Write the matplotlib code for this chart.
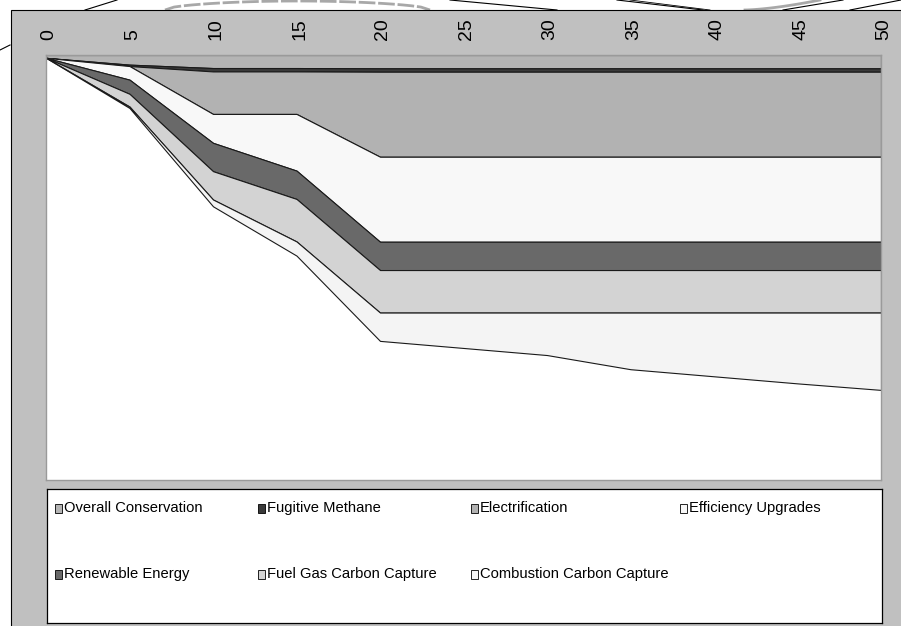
import numpy as np
import matplotlib.pyplot as plt
import matplotlib.transforms as mtransforms
from matplotlib.patches import Rectangle
from matplotlib.lines import Line2D

plt.rcParams['font.family'] = ['Liberation Sans', 'DejaVu Sans']

# years from start
years = [0, 5, 10, 15, 20, 25, 30, 35, 40, 45, 50]

labels = ["Overall Conservation", "Fugitive Methane", "Electrification",
          "Efficiency Upgrades", "Renewable Energy", "Fuel Gas Carbon Capture",
          "Combustion Carbon Capture"]

# reductions (stacked downward)
overall_cons = [0.10, 0.34, 0.46, 0.46, 0.47, 0.47, 0.47, 0.47, 0.47, 0.47, 0.47]
fugitive_ch4 = [0.00, 0.05, 0.12, 0.12, 0.12, 0.12, 0.12, 0.12, 0.12, 0.12, 0.12]
electrif     = [0.00, 0.00, 1.50, 1.50, 3.00, 3.00, 3.00, 3.00, 3.00, 3.00, 3.00]
efficiency   = [0.00, 0.48, 1.02, 2.00, 3.00, 3.00, 3.00, 3.00, 3.00, 3.00, 3.00]
renewable    = [0.00, 0.50, 1.00, 1.00, 1.00, 1.00, 1.00, 1.00, 1.00, 1.00, 1.00]
fuelgas_ccs  = [0.00, 0.45, 1.00, 1.50, 1.50, 1.50, 1.50, 1.50, 1.50, 1.50, 1.50]
combust_ccs  = [0.00, 0.05, 0.24, 0.50, 1.00, 1.25, 1.50, 2.00, 2.25, 2.50, 2.73]

colors = ['#b4b4b4', '#3a3a3a', '#b2b2b2', '#f8f8f8', '#696969', '#d3d3d3', '#f4f4f4']

W, H = 901, 626
fig = plt.figure(figsize=(W / 100, H / 100), dpi=100)
fig.patch.set_facecolor('white')

def fx(px):
    return px / W

def fy(py):
    return 1 - py / H

# stray lines above the frame
stray = [((0, 50), (10, 45), 'black', 0.8),
         ((85, 10), (117, 0), 'black', 0.8),
         ((450, 0), (557, 10), 'black', 0.8),
         ((617, 0), (703, 10), 'black', 0.8),
         ((630, 0), (710, 10), 'black', 0.6),
         ((783, 10), (843, 0), 'black', 0.8),
         ((850, 10), (901, 0), 'black', 0.8)]
for (x0, y0), (x1, y1), c, lw in stray:
    fig.add_artist(Line2D([fx(x0), fx(x1)], [fy(y0), fy(y1)], color=c, lw=lw, zorder=0))
t = np.linspace(0, 1, 30)
fig.add_artist(Line2D(fx(165 + 265 * t), fy(10 - 9 * np.sin(np.pi * t) ** 0.5),
                      color='#a8a8a8', lw=2, ls=(0, (6, 1)), zorder=0))
fig.add_artist(Line2D(fx(745 + 75 * t), fy(10 - 10 * t ** 1.5),
                      color='#a8a8a8', lw=2, zorder=0))

# grey frame
fig.add_artist(Rectangle((fx(11), -0.05), 1.0, fy(10) + 0.05, transform=fig.transFigure,
                         facecolor='#c0c0c0', edgecolor='black', lw=0.8, zorder=1))

ax = fig.add_axes([fx(46), fy(480), fx(881) - fx(46), fy(55) - fy(480)])
ax.set_zorder(2)
ax.set_facecolor('white')

series = [overall_cons, fugitive_ch4, electrif, efficiency, renewable, fuelgas_ccs, combust_ccs]
neg = [-np.array(s) for s in series]
ax.stackplot(years, *neg, colors=colors, edgecolor='#1a1a1a', linewidth=0.8)

ax.set_xlim(0, 50)
ax.set_ylim(-15, 0)
ax.xaxis.tick_top()
ax.set_xticks(range(0, 51, 5))
ax.set_xticklabels([str(v) for v in range(0, 51, 5)], rotation=90, fontsize=14)
ax.tick_params(axis='x', length=0, pad=11)
shift = mtransforms.ScaledTranslation(3 / 100, 0, fig.dpi_scale_trans)
for lbl in ax.get_xticklabels():
    lbl.set_transform(lbl.get_transform() + shift)
ax.set_yticks([])
for s in ax.spines.values():
    s.set_color('#9a9a9a')
    s.set_linewidth(1.0)

# legend box, in pixel coordinates of the figure
lax = fig.add_axes([fx(47), fy(623), fx(882) - fx(47), fy(489) - fy(623)])
lax.set_zorder(2)
lax.set_xlim(47, 882)
lax.set_ylim(623, 489)
lax.set_xticks([])
lax.set_yticks([])
for s in lax.spines.values():
    s.set_color('black')
    s.set_linewidth(0.9)

col_x = [55, 258, 471, 680]
row_y = [508, 574]
for i, (lab, c) in enumerate(zip(labels, colors)):
    x = col_x[i % 4]
    y = row_y[i // 4]
    lax.add_patch(Rectangle((x, y - 4.5), 7, 9, facecolor=c, edgecolor='black', lw=0.6))
    lax.text(x + 9, y, lab, fontsize=10.6, va='center', ha='left')

fig.savefig('out.png', dpi=100)
